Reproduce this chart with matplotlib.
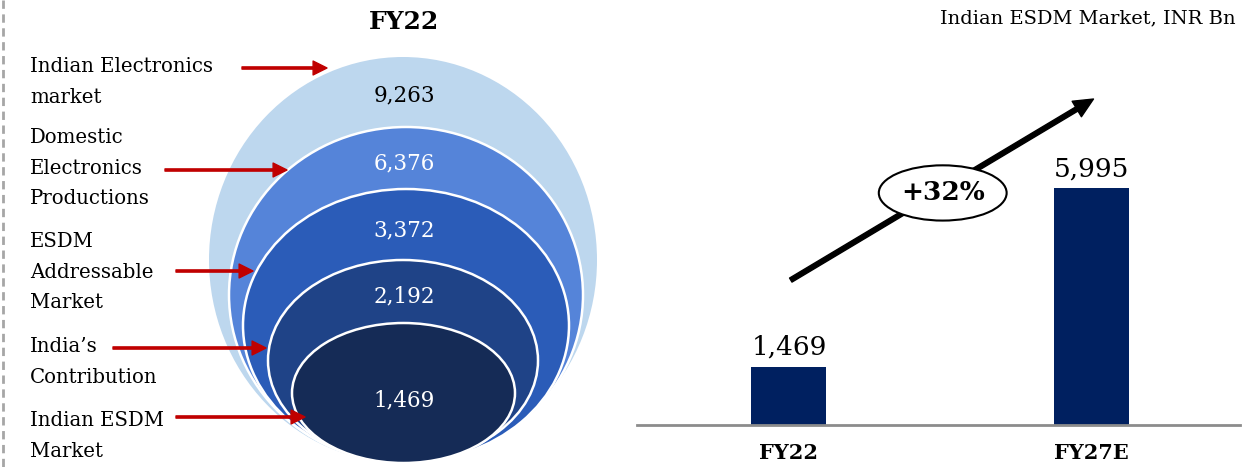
import numpy as np
import matplotlib
matplotlib.use("Agg")
import matplotlib.pyplot as plt
from matplotlib.patches import Ellipse

plt.rcParams["font.family"] = ["DejaVu Serif"]

# --- data ---
ring_labels = ["Indian Electronics\nmarket", "Domestic\nElectronics\nProductions",
               "ESDM\nAddressable\nMarket", "India\u2019s\nContribution",
               "Indian ESDM\nMarket"]
ring_values = [9263, 6376, 3372, 2192, 1469]
bar_cats = ["FY22", "FY27E"]
bar_values = [1469, 5995]
cagr_text = "+32%"

# --- layout (pixel space of the figure, y down) ---
W, H = 1249, 467
ring_colors = ["#BDD7EE", "#5584D9", "#2B5CB8", "#1F4387", "#152B56"]
ring_box = [(209, 597, 57, 463), (229, 583, 127, 463), (243, 569, 189, 462),
            (268, 538, 260, 461), (292, 515, 323, 463)]
value_y = [95, 163, 230, 296, 400]
label_y = [82, 168, 272, 362, 436]
arrow_y = [68, 170, 271, 348, 417]
arrow_x = [(242, 327), (165, 287), (176, 253), (113, 266), (176, 305)]
red = "#C00000"
navy = "#002060"

fig = plt.figure(figsize=(W / 100, H / 100), dpi=100)

# left: nested-ellipse diagram drawn in pixel coordinates
ax0 = fig.add_axes([0, 0, 1, 1])
ax0.set_xlim(0, W)
ax0.set_ylim(H, 0)
ax0.axis("off")

ax0.plot([3, 3], [0, H], color="#A6A6A6", lw=2, ls=(0, (3, 2)))

for i, (val, col, box) in enumerate(zip(ring_values, ring_colors, ring_box)):
    x0, x1, y0, y1 = box
    ec = "none" if i == 0 else "white"
    ax0.add_patch(Ellipse(((x0 + x1) / 2, (y0 + y1) / 2), x1 - x0, y1 - y0,
                          fc=col, ec=ec, lw=1.8, zorder=2 + i))
    ax0.text(404, value_y[i], f"{val:,}", ha="center", va="center",
             fontsize=15.5, color="black" if i == 0 else "white", zorder=10)

ax0.text(404, 22, "FY22", ha="center", va="center", fontsize=18,
         fontweight="bold")

for lab, ly, ay, (ax_s, ax_e) in zip(ring_labels, label_y, arrow_y, arrow_x):
    ax0.text(30, ly, lab, ha="left", va="center", fontsize=14.2,
             linespacing=1.75)
    ax0.annotate("", xy=(ax_e, ay), xytext=(ax_s, ay),
                 arrowprops=dict(width=1.6, headwidth=10, headlength=10,
                                 color=red, shrink=0),
                 zorder=12)

ax0.text(1236, 18, "Indian ESDM Market, INR Bn", ha="right", va="center",
         fontsize=14)

# right: bar chart
ax = fig.add_axes([637 / W, 42 / H, 603 / W, 425 / H])
ax.patch.set_alpha(0)
x = np.arange(len(bar_cats))
bars = ax.bar(x, bar_values, width=0.248, color=navy)
ax.set_xlim(-0.503, 1.493)
ax.set_ylim(0, 10760)
for s in ["top", "right", "left"]:
    ax.spines[s].set_visible(False)
ax.spines["bottom"].set_color("#8C8C8C")
ax.spines["bottom"].set_linewidth(2)
ax.set_yticks([])
ax.set_xticks(x)
ax.set_xticklabels(bar_cats, fontsize=15, fontweight="bold")
ax.tick_params(axis="x", length=0, pad=13)
for xi, v in zip(x, bar_values):
    ax.text(xi, v + 180, f"{v:,}", ha="center", va="bottom", fontsize=19)

# growth arrow and CAGR bubble (axes fraction)
ax.annotate("", xy=(0.757, 0.767), xytext=(0.255, 0.341),
            xycoords="axes fraction",
            arrowprops=dict(width=3.4, headwidth=13, headlength=14,
                            color="black", shrink=0))
ax.add_patch(Ellipse((0.507, 0.546), 0.212, 0.13, transform=ax.transAxes,
                     fc="white", ec="black", lw=1.5, zorder=5))
ax.text(0.507, 0.546, cagr_text, transform=ax.transAxes, ha="center",
        va="center", fontsize=19, fontweight="bold", zorder=6)

fig.savefig("out.png", dpi=100)
